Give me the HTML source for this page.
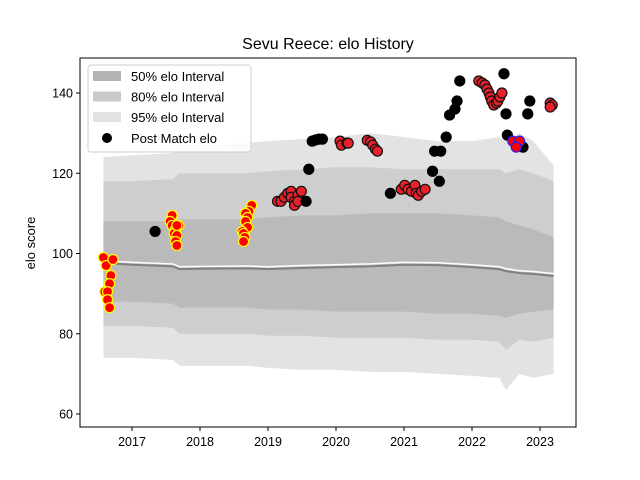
<!DOCTYPE html>
<html><head><meta charset="utf-8"><style>
body{margin:0;background:#fff;}
svg{display:block;font-family:"Liberation Sans","DejaVu Sans",sans-serif;}
</style></head><body>
<svg id="chart" width="640" height="480">
<rect width="640" height="480" fill="#fff"/>
<text x="328" y="49" font-size="16" text-anchor="middle">Sevu Reece: elo History</text>
<g id="bands"></g><g id="lines"></g><g id="pts"></g>
<rect x="80" y="58" width="496" height="369" fill="none" stroke="#000" stroke-width="1"/>
<g id="axes" font-size="12.5"></g>
<text transform="translate(35,243) rotate(-90)" font-size="13" text-anchor="middle">elo score</text>
<g id="legend">
<rect x="88" y="65" width="163" height="87" fill="#fff" fill-opacity="0.85" stroke="#ccc" rx="3"/>
</g>
</svg>
<script>
const bandDates=[2016.58,2017.0,2017.6,2017.7,2018.0,2018.7,2019.0,2019.5,2020.0,2020.5,2021.0,2021.5,2022.0,2022.4,2022.5,2022.7,2022.9,2023.2];
const b95hi=[124,124.5,125,127,127,127.5,128,128.5,129,130,129,128,128,129,128,130,128,122];
const b95lo=[74,74,73.5,72,72,72,71.5,71,71,70.5,70.5,70,69.5,69,66,70,69,70];
const b80hi=[118,118,118.5,120,120,120,120.5,121,121.5,121.5,121,121,121,121,120,121,120,118];
const b80lo=[82,82,81.5,80,80,80,79.5,79.5,79,79,79,78.5,78.5,78,76,78.5,78,79];
const b50hi=[108,108,108,108.5,108.5,108.5,109,109.5,109.5,110,110,110,109.5,109,108,107,106,104];
const b50lo=[88,88,87.5,86.5,86.5,86.5,86,86,85.5,85.5,85.5,85,85,84.5,84,85,85.5,86];
const medVals=[98,97.6,97.2,96.5,96.6,96.7,96.5,96.8,97,97.2,97.6,97.5,97,96.5,96,95.5,95.3,94.8];
const ptDates=[2016.58,2016.62,2016.72,2016.69,2016.67,2016.6,2016.64,2016.64,2016.67,
2017.59,2017.56,2017.59,2017.69,2017.64,2017.62,2017.66,2017.64,2017.66,2017.66,
2018.76,2018.72,2018.67,2018.7,2018.67,2018.7,2018.62,2018.64,2018.66,2018.64,
2017.34,
2019.14,2019.19,2019.24,2019.29,2019.34,2019.34,2019.39,2019.39,2019.44,2019.49,2019.44,
2019.56,2019.6,2019.65,2019.7,2019.75,2019.8,
2020.06,2020.08,2020.16,2020.18,2020.46,2020.51,2020.54,2020.58,2020.61,
2020.8,
2020.96,2021.01,2021.06,2021.11,2021.16,2021.18,2021.21,2021.26,2021.31,
2021.45,2021.42,2021.54,2021.52,2021.62,2021.67,2021.75,2021.78,2021.82,
2022.1,2022.15,2022.19,2022.22,2022.25,2022.27,2022.29,2022.32,2022.36,2022.38,2022.41,2022.44,
2022.47,2022.5,2022.52,2022.82,2022.85,2022.75,
2022.6,2022.7,2022.65,
2023.15,2023.18,2023.15];
const ptVals=[99,97,98.5,94.5,92.5,90.5,90.5,88.5,86.5,
109.5,108,107,107,106,105,104.5,103,102,107,
112,110.5,110,109,108,106.5,105.5,105,104,103,
105.5,
113,113,114,115,115.5,114,113,112,114.5,115.5,113,
113,121,128,128.3,128.5,128.5,
128,127,127.5,127.5,128.2,127.8,127,126,125.5,
115,
116,117,116,115.5,117,115,114.5,115.5,116,
125.5,120.5,125.5,118,129,134.5,136,138,143,
143,142.5,142,141,140,139,138,137,137.5,138,139,140,
144.8,134.8,129.5,134.8,138,126.5,
128,128,126.5,
137.5,137,136.5];
const ptKind=[].concat(Array(9).fill('y'),Array(20).fill('y'),['k'],Array(11).fill('r'),Array(6).fill('k'),Array(9).fill('r'),['k'],Array(9).fill('r'),Array(9).fill('k'),Array(12).fill('r'),Array(6).fill('k'),Array(3).fill('b'),Array(3).fill('r'));
const yTicks=[60,80,100,120,140];
const xTicks=[2017,2018,2019,2020,2021,2022,2023];
const NS='http://www.w3.org/2000/svg';
const X=d=>132+(d-2017)*68;
const Y=v=>414-(v-60)*4.0125;
function mk(t,a,p){const e=document.createElementNS(NS,t);for(const k in a)e.setAttribute(k,a[k]);p.appendChild(e);return e;}
const bands=document.getElementById('bands');
function band(hi,lo,fill,name){
 let d='M'+bandDates.map((t,i)=>X(t)+','+Y(hi[i])).join('L');
 for(let i=bandDates.length-1;i>=0;i--)d+='L'+X(bandDates[i])+','+Y(lo[i]);
 const p=mk('path',{d:d+'Z',fill:fill},bands);
 
 
}
band(b95hi,b95lo,'#e3e3e3','band-95');
band(b80hi,b80lo,'#cecece','band-80');
band(b50hi,b50lo,'#bababa','band-50');
const lines=document.getElementById('lines');
const l1=mk('polyline',{points:bandDates.map((t,i)=>X(t)+','+Y(medVals[i]-0.4)).join(' '),fill:'none',stroke:'#808080','stroke-width':2},lines);


const l2=mk('polyline',{points:bandDates.map((t,i)=>X(t)+','+Y(medVals[i]+0.2)).join(' '),fill:'none',stroke:'#fff','stroke-width':1.5},lines);


const pts=document.getElementById('pts');
const sty={y:['#ff0000','#ffff00'],r:['#e8202a','#111'],k:['#000','#000'],b:['#ff0000','#2020ff']};
ptDates.forEach((t,i)=>{const s=sty[ptKind[i]];
 const c=mk('circle',{cx:X(t),cy:Y(ptVals[i]),r:5,fill:s[0],stroke:s[1],'stroke-width':1.2},pts);
 
 
});
const ax=document.getElementById('axes');
yTicks.forEach(v=>{mk('line',{x1:76,x2:80,y1:Y(v),y2:Y(v),stroke:'#000'},ax);
 const t=mk('text',{x:73,y:Y(v)+4.5,'text-anchor':'end'},ax);t.textContent=v;
 
 });
xTicks.forEach(v=>{mk('line',{x1:X(v),x2:X(v),y1:427,y2:431,stroke:'#000'},ax);
 const t=mk('text',{x:X(v),y:446,'text-anchor':'middle'},ax);t.textContent=v;
 
 });
const lg=document.getElementById('legend');
const items=[['#b3b3b3','50% elo Interval'],['#c9c9c9','80% elo Interval'],['#e3e3e3','95% elo Interval']];
items.forEach((it,i)=>{const y=71+i*20.5;
 mk('rect',{x:93,y:y,width:28,height:10,fill:it[0]},lg);
 const t=mk('text',{x:131,y:y+10,'font-size':13},lg);t.textContent=it[1];
 
 });
mk('circle',{cx:107,cy:138,r:5,fill:'#000'},lg);
const t4=mk('text',{x:131,y:143,'font-size':13},lg);t4.textContent='Post Match elo';


</script>
</body></html>
